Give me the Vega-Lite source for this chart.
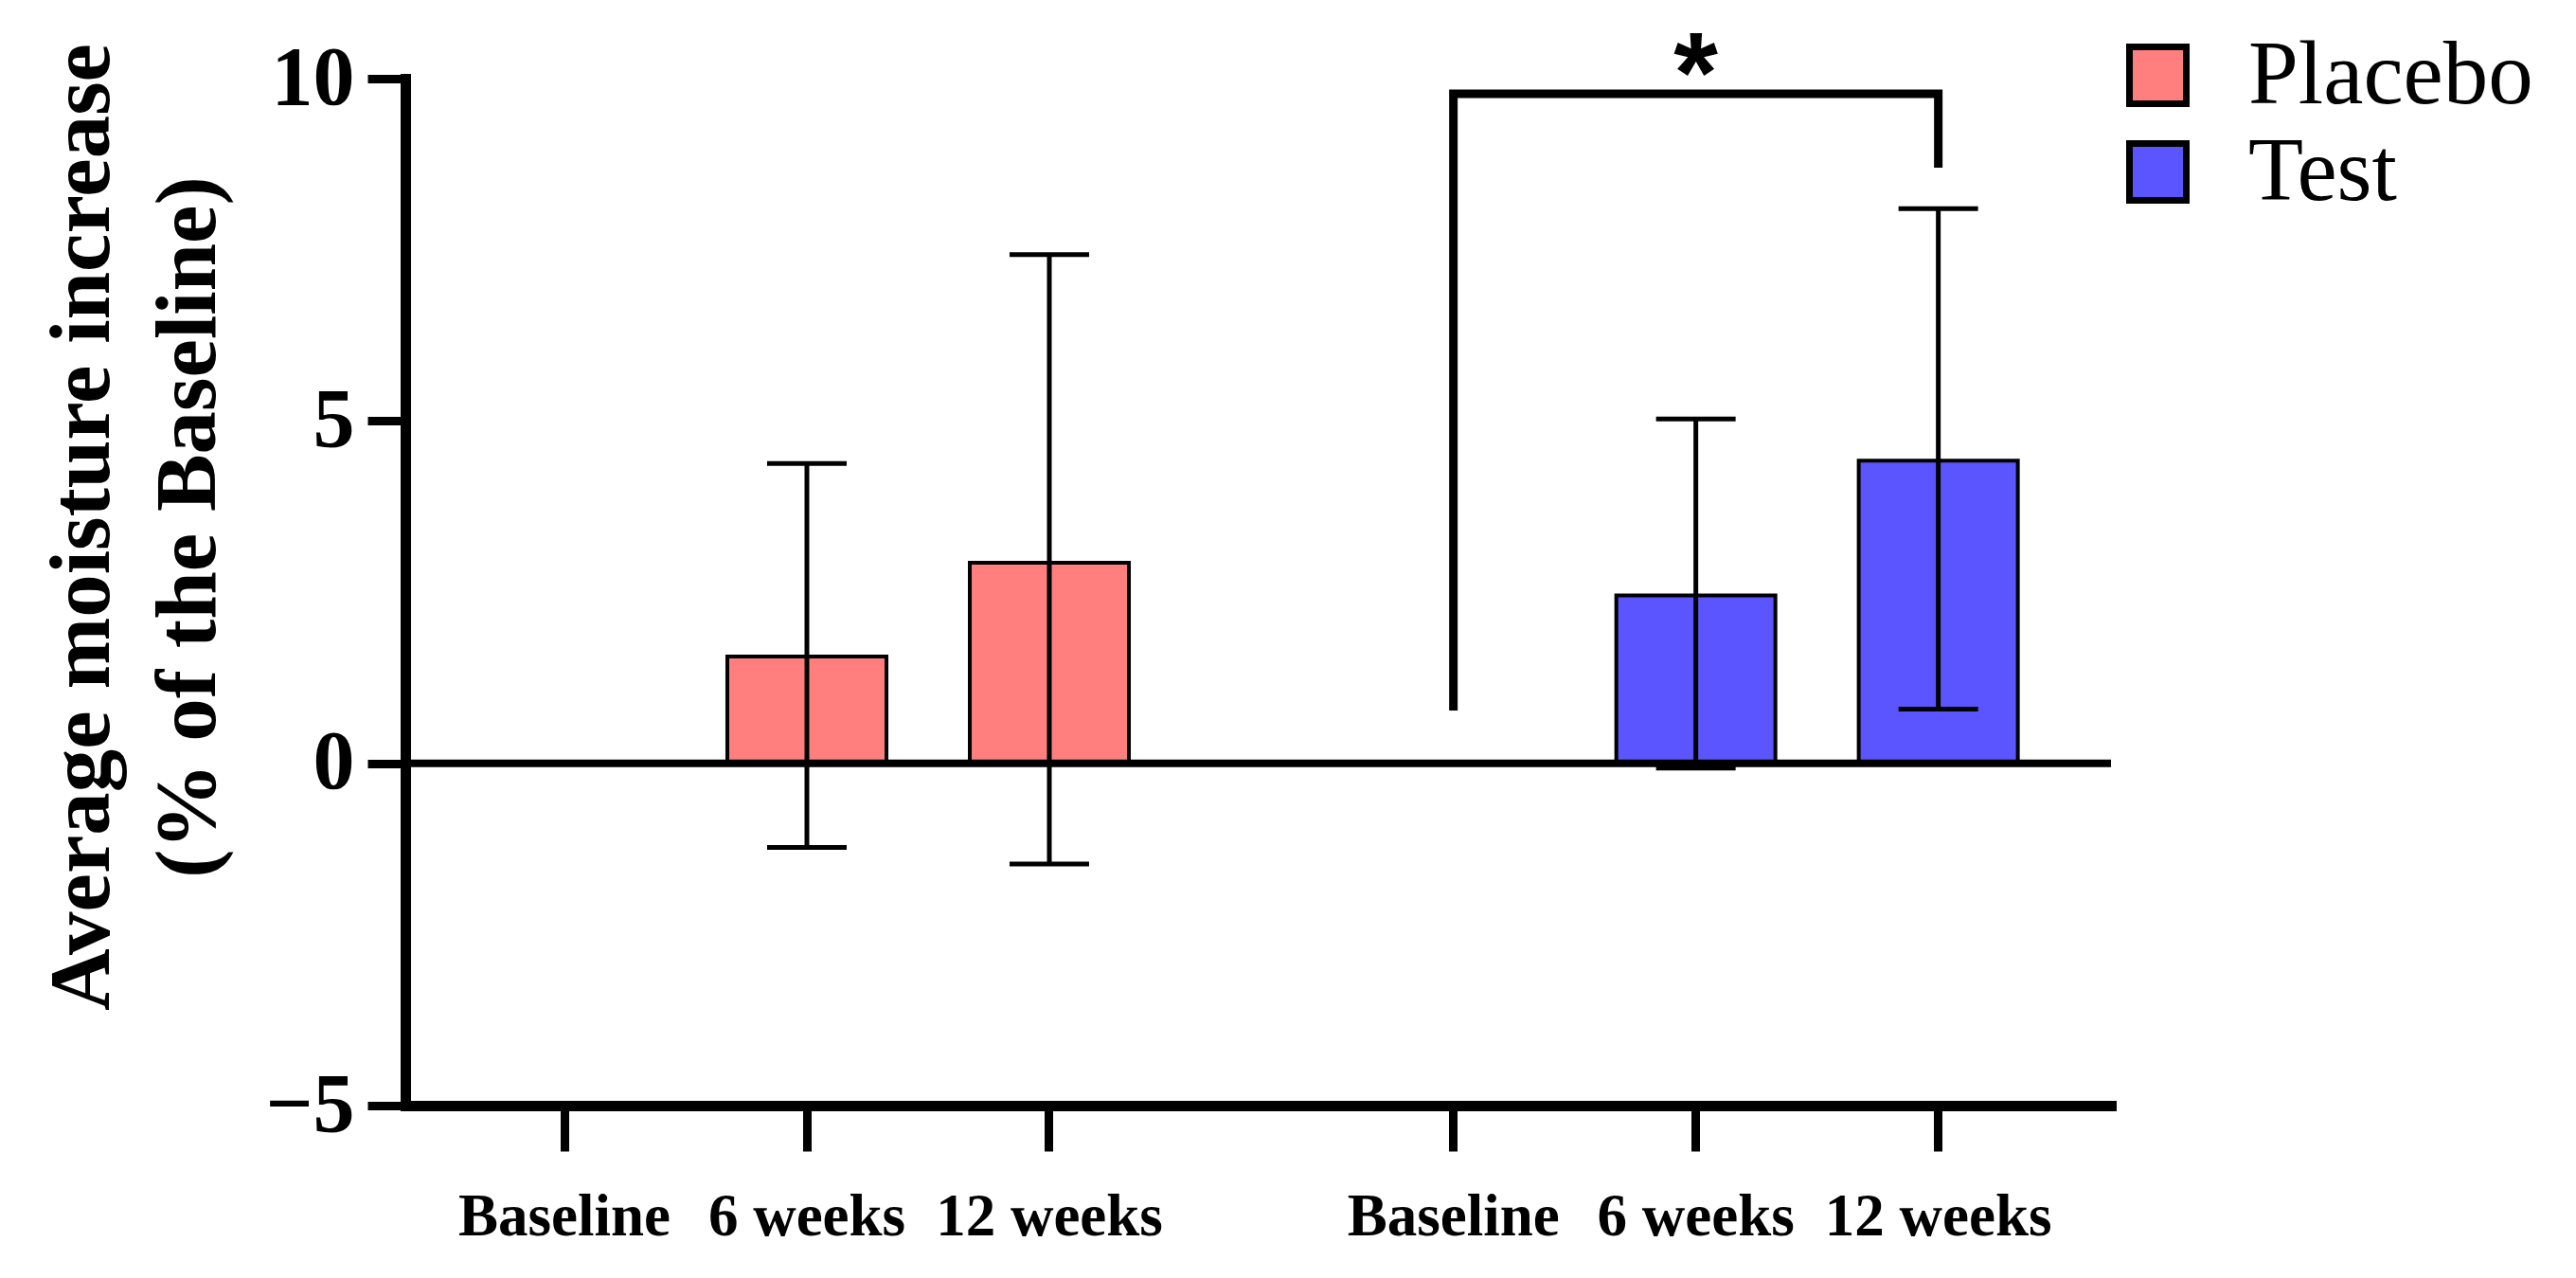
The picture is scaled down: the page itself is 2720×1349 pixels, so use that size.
{
  "$schema": "https://vega.github.io/schema/vega-lite/v6.json",
  "width": 1801,
  "height": 1084,
  "autosize": {"type": "none"},
  "padding": {"left": 428, "top": 83, "right": 491, "bottom": 182},
  "background": "white",
  "config": {"view": {"stroke": null}},
  "datasets": {
    "bars": [
      {"group": "Placebo", "time": "Baseline", "key": "Placebo|Baseline", "mean": 0, "lo": null, "hi": null},
      {"group": "Placebo", "time": "6 weeks", "key": "Placebo|6 weeks", "mean": 1.56, "lo": -1.23, "hi": 4.38},
      {"group": "Placebo", "time": "12 weeks", "key": "Placebo|12 weeks", "mean": 2.93, "lo": -1.47, "hi": 7.43},
      {"group": "Test", "time": "Baseline", "key": "Test|Baseline", "mean": 0, "lo": null, "hi": null},
      {"group": "Test", "time": "6 weeks", "key": "Test|6 weeks", "mean": 2.45, "lo": -0.07, "hi": 5.03},
      {"group": "Test", "time": "12 weeks", "key": "Test|12 weeks", "mean": 4.42, "lo": 0.79, "hi": 8.1}
    ],
    "bracket": [
      {"key": "Test|Baseline", "y": 0.77, "order": 1},
      {"key": "Test|Baseline", "y": 9.78, "order": 2},
      {"key": "Test|12 weeks", "y": 9.78, "order": 3},
      {"key": "Test|12 weeks", "y": 8.7, "order": 4}
    ],
    "star": [
      {"key": "Test|6 weeks", "y": 9.78, "label": "*"}
    ]
  },
  "layer": [
    {
      "data": {"name": "bars"},
      "mark": {"type": "bar", "stroke": "black", "strokeWidth": 4, "width": 168},
      "encoding": {
        "x": {
          "field": "key",
          "type": "nominal",
          "title": null,
          "scale": {
            "domain": ["l1", "Placebo|Baseline", "s1", "s2", "Placebo|6 weeks", "s4", "s5", "Placebo|12 weeks", "s7", "s8", "s9", "s10", "Test|Baseline", "s12", "s13", "Test|6 weeks", "s15", "s16", "Test|12 weeks", "r1"],
            "paddingInner": 0,
            "paddingOuter": 0.553,
            "align": 0.424
          },
          "axis": {
            "orient": "bottom",
            "domain": true,
            "domainColor": "black",
            "domainWidth": 11,
            "domainCap": "square",
            "ticks": true,
            "bandPosition": 0.5,
            "tickColor": "black",
            "tickWidth": 9,
            "tickSize": 48,
            "tickOpacity": {"condition": {"test": "indexof(datum.value, '|') < 0", "value": 0}, "value": 1},
            "labelExpr": "indexof(datum.value, '|') < 0 ? '' : split(datum.value, '|')[1]",
            "labelFont": "Liberation Serif",
            "labelFontWeight": "bold",
            "labelFontSize": 63,
            "labelColor": "black",
            "labelPadding": 38,
            "labelAngle": 0,
            "labelLimit": 500,
            "labelOverlap": false,
            "labelBound": false,
            "grid": false
          }
        },
        "y": {
          "field": "mean",
          "type": "quantitative",
          "scale": {"domain": [-5, 10], "nice": false, "zero": false},
          "axis": {
            "values": [-5, 0, 5, 10],
            "format": "d",
            "grid": false,
            "domainColor": "black",
            "domainWidth": 11,
            "domainCap": "square",
            "tickColor": "black",
            "tickWidth": 9,
            "tickSize": 40,
            "labelFont": "Liberation Serif",
            "labelFontWeight": "bold",
            "labelFontSize": 88,
            "labelColor": "black",
            "labelPadding": 14,
            "title": ["Average moisture increase", "(% of the Baseline)"],
            "titleFont": "Liberation Serif",
            "titleFontWeight": "bold",
            "titleFontSize": 91,
            "titleColor": "black",
            "titleLineHeight": 112,
            "titleBaseline": "alphabetic",
            "titleAlign": "center",
            "titleAngle": 270,
            "titleX": -314,
            "titleY": 473,
            "titleLimit": 3000
          }
        },
        "color": {
          "field": "group",
          "type": "nominal",
          "scale": {"domain": ["Placebo", "Test"], "range": ["#FF7F7F", "#5A55FF"]},
          "legend": {
            "title": null,
            "orient": "none",
            "legendX": 1803,
            "legendY": -51,
            "symbolType": "square",
            "symbolSize": 3600,
            "symbolStrokeColor": "black",
            "symbolStrokeWidth": 7,
            "symbolOpacity": 1,
            "labelFont": "Liberation Serif",
            "labelFontSize": 95,
            "labelColor": "black",
            "labelOffset": 48,
            "labelLimit": 600,
            "rowPadding": 6,
            "padding": 0
          }
        }
      }
    },
    {
      "data": {"name": "bars"},
      "transform": [{"filter": "datum.hi != null"}],
      "mark": {"type": "rule", "color": "black", "strokeWidth": 5},
      "encoding": {
        "x": {"field": "key", "type": "nominal"},
        "y": {"field": "lo", "type": "quantitative"},
        "y2": {"field": "hi"}
      }
    },
    {
      "data": {"name": "bars"},
      "transform": [{"filter": "datum.hi != null"}],
      "mark": {"type": "tick", "color": "black", "thickness": 5, "size": 84, "orient": "horizontal", "opacity": 1},
      "encoding": {
        "x": {"field": "key", "type": "nominal"},
        "y": {"field": "hi", "type": "quantitative"}
      }
    },
    {
      "data": {"name": "bars"},
      "transform": [{"filter": "datum.lo != null"}],
      "mark": {"type": "tick", "color": "black", "thickness": 5, "size": 84, "orient": "horizontal", "opacity": 1},
      "encoding": {
        "x": {"field": "key", "type": "nominal"},
        "y": {"field": "lo", "type": "quantitative"}
      }
    },
    {
      "data": {"values": [{}]},
      "mark": {"type": "rule", "color": "black", "strokeWidth": 8},
      "encoding": {"y": {"datum": 0}}
    },
    {
      "data": {"name": "bracket"},
      "mark": {"type": "line", "color": "black", "strokeWidth": 9, "strokeJoin": "miter", "strokeCap": "butt"},
      "encoding": {
        "x": {"field": "key", "type": "nominal"},
        "y": {"field": "y", "type": "quantitative"},
        "order": {"field": "order"}
      }
    },
    {
      "data": {"name": "star"},
      "mark": {"type": "text", "font": "Liberation Sans", "fontWeight": "bold", "fontSize": 120, "color": "black", "baseline": "alphabetic", "align": "center", "dy": 19},
      "encoding": {
        "x": {"field": "key", "type": "nominal"},
        "y": {"field": "y", "type": "quantitative"},
        "text": {"field": "label"}
      }
    }
  ]
}
